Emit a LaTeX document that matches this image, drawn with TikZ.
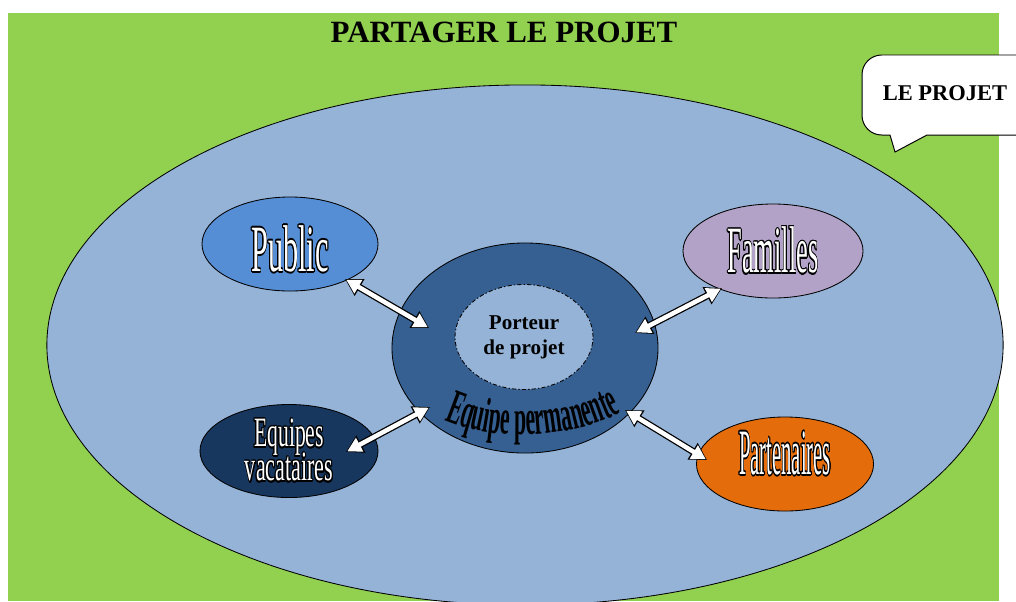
\documentclass[tikz,border=0pt]{standalone}
\usepackage{fontspec}
\setmainfont{Liberation Serif}
\newfontfamily\epfont[FakeStretch=0.44]{Liberation Serif}
\usepackage[copies]{contour}
\contourlength{1.1pt}
\usetikzlibrary{arrows.meta,decorations.text,shapes.geometric}
\definecolor{bggreen}{HTML}{92D050}
\definecolor{bigblue}{HTML}{95B3D7}
\definecolor{ringblue}{HTML}{366092}
\definecolor{pubc}{HTML}{558ED5}
\definecolor{famc}{HTML}{B3A2C7}
\definecolor{vacc}{HTML}{17375E}
\definecolor{parc}{HTML}{E46C0A}
\newcommand\wordart[4]{\scalebox{#1}[#2]{\fontsize{#3}{#3}\selectfont\color{white}\contour{black}{#4}}}
\tikzset{
  bubble/.style={ellipse, draw=black, line width=0.6pt, inner sep=0pt},
  arrowout/.style={line width=5pt, draw=black, {Triangle[length=12pt,width=13pt]}-{Triangle[length=12pt,width=13pt]}},
  arrowin/.style={line width=3.2pt, draw=white, {Triangle[length=10pt,width=10.5pt]}-{Triangle[length=10pt,width=10.5pt]}, shorten <=1pt, shorten >=1pt},
}
\begin{document}
\begin{tikzpicture}[x=0.025cm,y=-0.025cm]
\clip (0,0) rectangle (1016,601);
\fill[white] (0,0) rectangle (1016,601);
\fill[bggreen] (8,13) rectangle (999,601);
% title
\node[font=\bfseries\fontsize{22}{24}\selectfont] (title) at (504,32) {PARTAGER LE PROJET};
% callout
\draw[fill=white, line width=0.7pt] (895,152) -- (890,135) [rounded corners=14pt] -- (862,135) -- (862,55) -- (1040,55) -- (1040,135) [sharp corners] -- (927,135) -- cycle;
\node[font=\bfseries\fontsize{16}{18}\selectfont] (callout) at (945,93) {LE PROJET};
% big ellipse
\node[bubble, fill=bigblue, minimum width=23.9cm, minimum height=13cm] (projet) at (525,345) {};
% ring
\node[bubble, fill=ringblue, minimum width=6.65cm, minimum height=5.25cm] (ring) at (525,348) {};
\node[ellipse, draw=black, line width=0.6pt, fill=bigblue, dash pattern=on 3pt off 1.5pt on 1pt off 1.5pt,
      minimum width=3.45cm, minimum height=2.625cm, inner sep=0pt, align=center,
      font=\bfseries\fontsize{15}{18}\selectfont] (porteur) at (524,337) {Porteur\\de projet};
\path[decorate, decoration={text along path, text align=center,
      text={|\epfont\bfseries\fontsize{35}{35}\selectfont|Equipe permanente}}]
  (436,416) .. controls (485,442) and (570,442) .. (630,408);
% satellites
\node[bubble, fill=pubc, minimum width=4.4cm, minimum height=2.35cm,
      label={[yshift=-4pt]center:\wordart{0.46}{1}{47}{Public}}] (pub) at (290,244) {};
\node[bubble, fill=famc, minimum width=4.5cm, minimum height=2.35cm,
      label={[yshift=0pt]center:\wordart{0.40}{1}{47}{Familles}}] (fam) at (773,251) {};
\node[bubble, fill=vacc, minimum width=4.45cm, minimum height=2.325cm,
      label={[align=center, yshift=0pt]center:\wordart{0.57}{1.1}{27}{Equipes}\\[-4pt]\wordart{0.58}{1.1}{27}{vacataires}}] (vac) at (289,451) {};
\node[bubble, fill=parc, minimum width=4.425cm, minimum height=2.35cm,
      label={[yshift=7pt]center:\wordart{0.32}{1}{46}{Partenaires}}] (par) at (785,464) {};
% arrow ends
\coordinate (p1) at (345,279);
\coordinate (r1) at (429,328);
\coordinate (f1) at (722,288);
\coordinate (r2) at (635,333);
\coordinate (v1) at (346,452);
\coordinate (r3) at (430,407);
\coordinate (a1) at (707,460);
\coordinate (r4) at (625,410);
\foreach \s/\e in {p1/r1, f1/r2, v1/r3, a1/r4}{
  \draw[arrowout] (\s) -- (\e);
  \draw[arrowin] (\s) -- (\e);
}
\end{tikzpicture}
\end{document}
